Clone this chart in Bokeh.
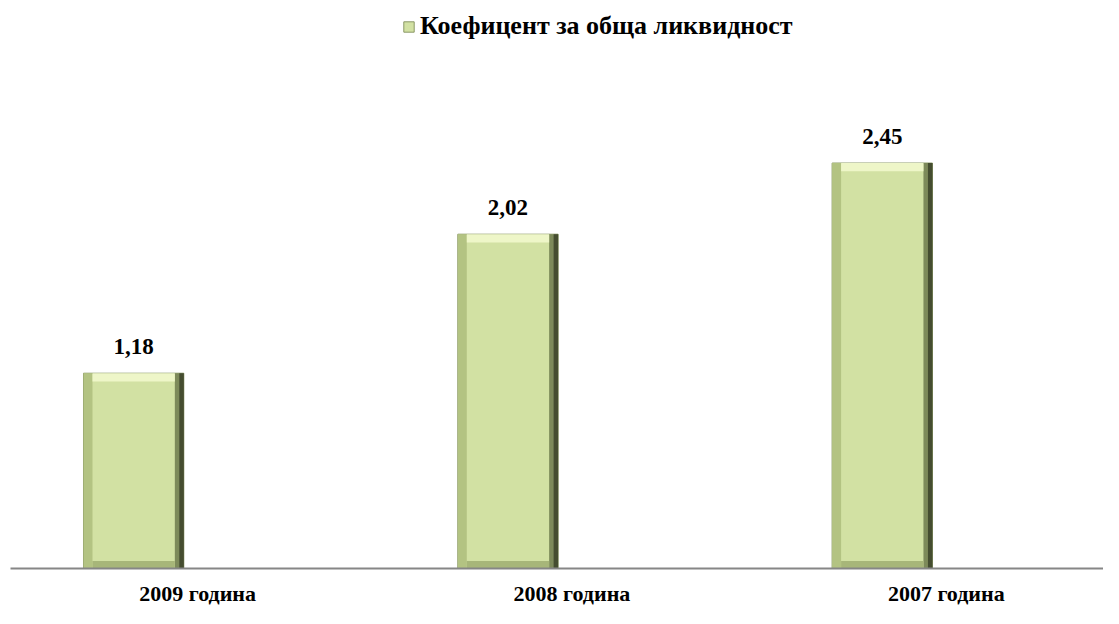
from bokeh.plotting import figure
from bokeh.models import Range1d, FixedTicker, ColumnDataSource, Legend, LegendItem
from bokeh.core.properties import value
from bokeh.embed import file_html
from bokeh.resources import INLINE

categories = ["2009 година", "2008 година", "2007 година"]
values = [1.18, 2.02, 2.45]
labels = ["1,18", "2,02", "2,45"]
series_name = "Коефицент за обща ликвидност"

FONT = "Liberation Serif"
n = len(categories)
centers = [i + 0.5 for i in range(n)]
offset = -0.171
bw = 0.268
xs = [c + offset for c in centers]

p = figure(width=1103, height=608, output_backend="svg", toolbar_location=None,
           x_range=Range1d(0.0, 2.92), y_range=Range1d(0, 3.42),
           min_border_left=10, min_border_right=0, min_border_top=2, min_border_bottom=36)
p.grid.visible = False
p.yaxis.visible = False
p.outline_line_color = None
p.background_fill_color = "white"
p.border_fill_color = "white"

src = ColumnDataSource(dict(x=xs, top=values, lab=labels))
main = p.vbar(x="x", top="top", bottom=0, width=bw, source=src,
              fill_color="#d2e1a3", line_color="#8a9866", line_width=1)

# bevel decoration (derived from data)
ex = bw / 2
sx = 0.024
sy = 0.05
p.vbar(x=[x - ex + sx / 2 for x in xs], top=values, bottom=0, width=sx,
       fill_color="#b3c382", line_color=None)
p.vbar(x=[x + ex - sx / 2 for x in xs], top=values, bottom=0, width=sx,
       fill_color="#7d8a5a", line_color=None)
p.vbar(x=[x + ex - sx / 4 for x in xs], top=values, bottom=0, width=sx / 2,
       fill_color="#454d30", line_color=None)
p.vbar(x=xs, top=values, bottom=[v - sy for v in values], width=bw - 2 * sx,
       fill_color="#eef6c8", line_color=None)
p.vbar(x=xs, top=[0.045] * n, bottom=0, width=bw - 2 * sx,
       fill_color="#a7b679", line_color=None)

p.text(x="x", y="top", text="lab", source=src, y_offset=-19,
       text_align="center", text_baseline="bottom",
       text_font=value(FONT), text_font_style="bold", text_font_size="23px",
       text_color="black")

p.xaxis.ticker = FixedTicker(ticks=centers)
p.xaxis.major_label_overrides = {c: cat for c, cat in zip(centers, categories)}
p.xaxis.major_tick_line_color = None
p.xaxis.minor_tick_line_color = None
p.xaxis.major_tick_out = 0
p.xaxis.major_tick_in = 0
p.xaxis.axis_line_color = "#868686"
p.xaxis.axis_line_width = 2
p.xaxis.major_label_standoff = 12
p.xaxis.major_label_text_font = FONT
p.xaxis.major_label_text_font_style = "bold"
p.xaxis.major_label_text_font_size = "22px"
p.xaxis.major_label_text_color = "black"

legend = Legend(items=[LegendItem(label=series_name, renderers=[main])],
                location=(392, 527), border_line_color=None,
                background_fill_alpha=0, label_text_font=FONT,
                label_text_font_style="bold", label_text_font_size="26px",
                label_text_color="black",
                glyph_width=13, glyph_height=13, margin=0, padding=4)
p.add_layout(legend, "center")

open("out.html", "w").write(file_html(p, INLINE))
